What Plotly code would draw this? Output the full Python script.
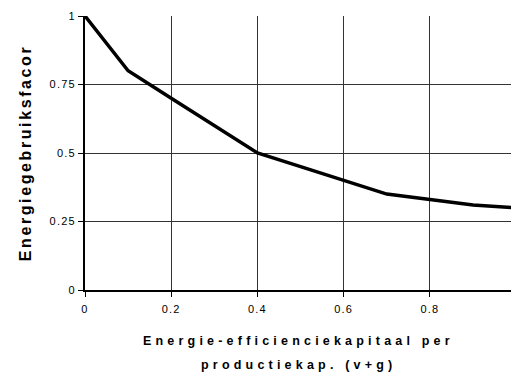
import plotly.graph_objects as go

x_vals = [0, 0.1, 0.2, 0.3, 0.4, 0.5, 0.6, 0.7, 0.8, 0.9, 1.0]
y_vals = [1.0, 0.8, 0.7, 0.6, 0.5, 0.45, 0.4, 0.35, 0.33, 0.31, 0.30]
x_ticks = [0, 0.2, 0.4, 0.6, 0.8]
x_tick_text = ["0", "0.2", "0.4", "0.6", "0.8"]
y_ticks = [0, 0.25, 0.5, 0.75, 1]
y_tick_text = ["0", "0.25", "0.5", "0.75", "1"]
x_title_lines = ["Energie-efficienciekapitaal per", "productiekap. (v+g)"]
y_title = "Energiegebruiksfacor"


def spaced(t, px):
    return '<span style="letter-spacing:%spx">%s</span>' % (px, t)


fig = go.Figure()
fig.add_trace(go.Scatter(x=x_vals, y=y_vals, mode="lines",
                         line=dict(color="black", width=3.5), showlegend=False))

fig.update_layout(
    width=511, height=372,
    margin=dict(l=85, r=0, t=16, b=82),
    paper_bgcolor="white", plot_bgcolor="white",
    font=dict(family="Liberation Sans, Arial, sans-serif", color="black", size=11),
    xaxis=dict(range=[0, 0.988], tickvals=x_ticks,
               ticktext=[spaced(t, 1.2) for t in x_tick_text],
               showgrid=True, gridcolor="#333", gridwidth=1,
               showline=True, linecolor="black", linewidth=1.5,
               ticks="outside", ticklen=5, tickcolor="black",
               ticklabelstandoff=3,
               zeroline=False),
    yaxis=dict(range=[0, 1], tickvals=y_ticks,
               ticktext=[spaced(t, 1.2) for t in y_tick_text],
               showgrid=True, gridcolor="#333", gridwidth=1,
               showline=True, linecolor="black", linewidth=2,
               ticks="outside", ticklen=5, tickcolor="black",
               zeroline=False,
               title=dict(text="<b>" + spaced(y_title, 2.6) + "</b>",
                          font=dict(size=16), standoff=14)),
)

for i, line in enumerate(x_title_lines):
    fig.add_annotation(text="<b>" + spaced(line, 4.2) + "</b>",
                       xref="paper", yref="paper", x=0.5, y=0,
                       xanchor="center", yanchor="middle",
                       yshift=-51 - 24 * i, showarrow=False,
                       font=dict(size=12.5, color="black"))

fig.write_html("out.html",
               config={"displayModeBar": False},
               post_script="document.body.style.margin='0';"
                           "document.body.style.overflow='hidden';")
